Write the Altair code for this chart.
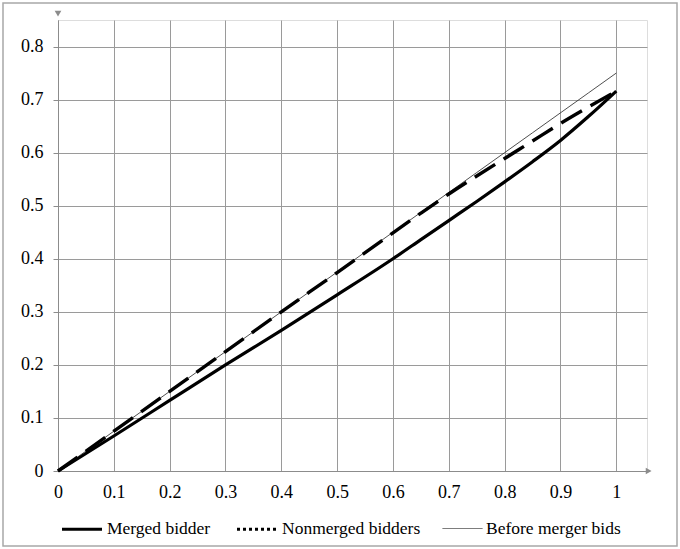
import altair as alt
import pandas as pd

x_vals = [0.0, 0.1, 0.2, 0.3, 0.4, 0.5, 0.6, 0.65, 0.7, 0.75, 0.8, 0.85, 0.9, 0.95, 1.0]
merged = [0.0, 0.066, 0.133, 0.2, 0.265, 0.332, 0.4, 0.436, 0.472, 0.508, 0.545, 0.583, 0.623, 0.668, 0.716]
nonmerged = [0.0, 0.075, 0.15, 0.225, 0.3, 0.374, 0.449, 0.486, 0.522, 0.556, 0.589, 0.622, 0.655, 0.686, 0.716]
before = [0.0, 0.075, 0.15, 0.225, 0.3, 0.375, 0.45, 0.4875, 0.525, 0.5625, 0.6, 0.6375, 0.675, 0.7125, 0.75]
series_names = ["Merged bidder", "Nonmerged bidders", "Before merger bids"]
x_ticks = [0, 0.1, 0.2, 0.3, 0.4, 0.5, 0.6, 0.7, 0.8, 0.9, 1]
y_ticks = [0, 0.1, 0.2, 0.3, 0.4, 0.5, 0.6, 0.7, 0.8]
arrow_x = [1.058, 0.0]
arrow_y = [0.0, 0.862]
arrow_shape = ["triangle-right", "triangle-down"]

rows = []
for name, vals in zip(series_names, [merged, nonmerged, before]):
    for xv, yv in zip(x_vals, vals):
        rows.append({"x": xv, "y": yv, "series": name})
df = pd.DataFrame(rows)

arrows = pd.DataFrame({"x": arrow_x, "y": arrow_y, "shape": arrow_shape})

FONT = "Liberation Serif, Times New Roman, serif"
W, H = 589, 451

xscale = alt.Scale(domain=[0, 1.055], nice=False, zero=False)
yscale = alt.Scale(domain=[0, 0.85], nice=False, zero=False)

xaxis = alt.Axis(values=x_ticks, title=None, grid=True, ticks=False,
                 labelPadding=12, labelFlush=False, format="~g")
yaxis = alt.Axis(values=y_ticks, title=None, grid=True, ticks=True, tickSize=5,
                 labelPadding=10, format="~g")

base = alt.Chart(df).encode(
    x=alt.X("x:Q", scale=xscale, axis=xaxis),
    y=alt.Y("y:Q", scale=yscale, axis=yaxis),
    order=alt.Order("x:Q"),
)

line_styles = {
    "Merged bidder": dict(strokeWidth=3.2, color="black", interpolate="monotone"),
    "Nonmerged bidders": dict(strokeWidth=3.4, color="black", strokeDash=[24, 10], interpolate="monotone"),
    "Before merger bids": dict(strokeWidth=0.8, color="#222222"),
}
# thin reference line drawn first, then the thick ones on top
draw_order = ["Before merger bids", "Merged bidder", "Nonmerged bidders"]
plot_layers = [
    base.transform_filter(alt.datum.series == name).mark_line(clip=False, **line_styles[name])
    for name in draw_order
]

# invisible layer that supplies the legend (dotted symbol like the reference)
legend_layer = base.mark_line(clip=False, opacity=0).encode(
    color=alt.Color("series:N", scale=alt.Scale(domain=series_names,
                    range=["#000000", "#000000", "#333333"]),
                    legend=alt.Legend(title=None, orient="none", legendX=2, legendY=487,
                                      direction="horizontal", symbolType="stroke",
                                      symbolSize=1600, columnPadding=19,
                                      labelOffset=3, symbolOpacity=1)),
    strokeDash=alt.StrokeDash("series:N", scale=alt.Scale(type="ordinal", domain=series_names,
                    range=[[1, 0], [3, 3], [1, 0]])),
    strokeWidth=alt.StrokeWidth("series:N", scale=alt.Scale(type="ordinal", domain=series_names,
                    range=[3.2, 3.2, 0.8])),
)

arrow_marks = alt.Chart(arrows).mark_point(filled=True, size=45, color="#8c8c8c", opacity=1, clip=False).encode(
    x=alt.X("x:Q", scale=xscale, axis=xaxis),
    y=alt.Y("y:Q", scale=yscale, axis=yaxis),
    shape=alt.Shape("shape:N", scale=None),
)

frame = alt.Chart(pd.DataFrame({"a": [0]})).mark_rect(
    fill=None, stroke="#a8a8a8", strokeWidth=1.5, clip=False).encode(
    x=alt.value(-55), x2=alt.value(619), y=alt.value(-17), y2=alt.value(526))

chart = alt.layer(*plot_layers, legend_layer, arrow_marks, frame).properties(
    width=W, height=H,
    autosize=alt.AutoSizeParams(type="none"),
    padding={"left": 58, "top": 20, "right": 33, "bottom": 78},
).configure_view(stroke=None).configure(background="white").configure_axis(
    labelFont=FONT, labelFontSize=18, labelColor="black",
    domainColor="#8c8c8c", gridColor="#9a9a9a", tickColor="#8c8c8c",
).configure_legend(
    labelFont=FONT, labelFontSize=17.5, labelColor="black",
)

chart.save("out.html", embed_options={"renderer": "svg", "actions": False})
